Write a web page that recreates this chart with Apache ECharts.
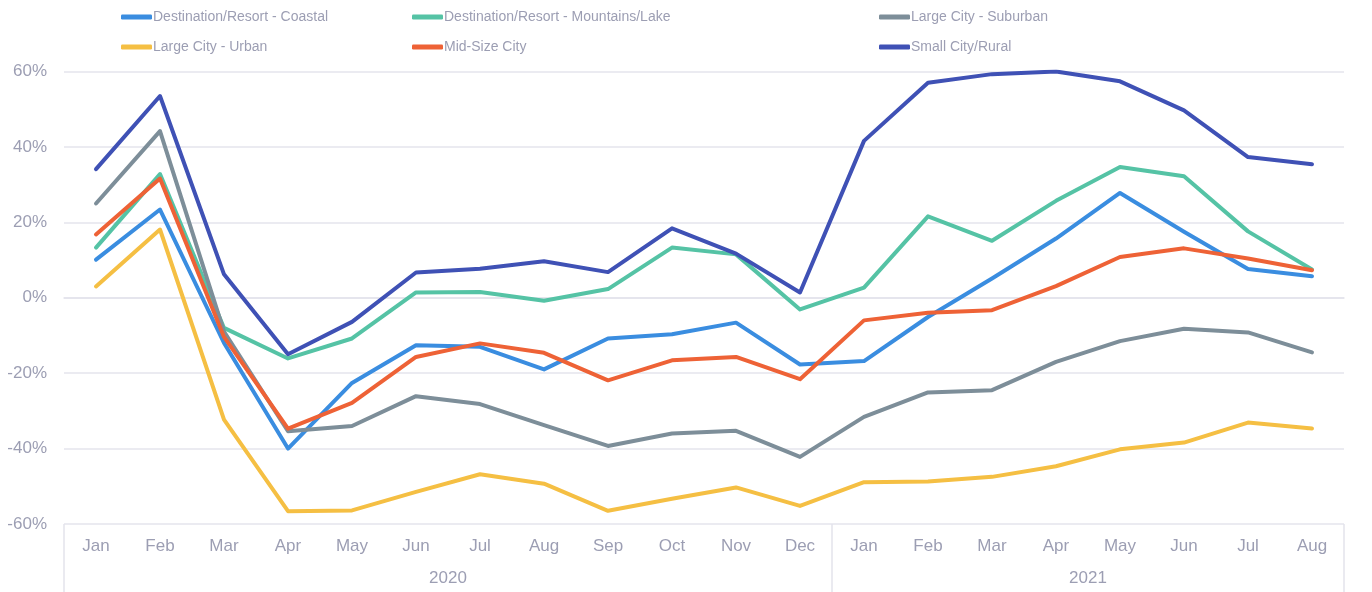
<!DOCTYPE html>
<html>
<head>
<meta charset="utf-8">
<script src="https://cdn.jsdelivr.net/npm/echarts@6/dist/echarts.min.js"></script>
<style>
html,body{margin:0;padding:0;background:#fff;}
#chart{width:1372px;height:592px;}
</style>
</head>
<body>
<div id="chart"></div>
<script>
const months = ['Jan','Feb','Mar','Apr','May','Jun','Jul','Aug','Sep','Oct','Nov','Dec','Jan','Feb','Mar','Apr','May','Jun','Jul','Aug'];
const years = ['2020','2021'];
const yearStarts = [0, 12, 20];
const yearCenters = [6, 16];

const seriesNames = ['Destination/Resort - Coastal','Destination/Resort - Mountains/Lake','Large City - Suburban','Large City - Urban','Mid-Size City','Small City/Rural'];

const coastal   = [10.1, 23.4, -12, -40.0, -22.6, -12.6, -13.0, -19.0, -10.8, -9.7, -6.6, -17.7, -16.8, -5.1, 5.1, 15.7, 27.8, 17.5, 7.6, 5.7];
const mountains = [13.3, 32.8, -8, -16.1, -10.8, 1.4, 1.5, -0.8, 2.3, 13.3, 11.5, -3.1, 2.7, 21.6, 15.1, 25.7, 34.7, 32.2, 17.6, 7.5];
const suburban  = [25.0, 44.2, -9, -35.4, -34.0, -26.1, -28.2, -33.8, -39.3, -36.0, -35.3, -42.2, -31.6, -25.1, -24.5, -17.0, -11.5, -8.2, -9.2, -14.5];
const urban     = [3.0, 18.1, -32.3, -56.6, -56.4, -51.5, -46.8, -49.3, -56.5, -53.3, -50.3, -55.2, -48.9, -48.7, -47.5, -44.7, -40.2, -38.4, -33.1, -34.7];
const midsize   = [16.8, 31.6, -10.4, -34.7, -27.9, -15.7, -12.1, -14.6, -21.9, -16.6, -15.7, -21.6, -6.0, -4.0, -3.3, 3.1, 10.8, 13.1, 10.4, 7.3];
const rural     = [34.1, 53.5, 6.2, -15.0, -6.4, 6.7, 7.7, 9.7, 6.8, 18.4, 11.7, 1.4, 41.6, 57.0, 59.3, 60.0, 57.4, 49.7, 37.3, 35.4];

const seriesData = [coastal, mountains, suburban, urban, midsize, rural];
const colors = ['#3a8de0', '#55c3a5', '#7d8e99', '#f5bf43', '#ee6236', '#3f51b5'];

const textColor = '#9c9eb3';
const gridColor = '#e4e4ec';
const legendFont = '"Liberation Sans", Arial, sans-serif';
const axisFont = '"Liberation Sans", Arial, sans-serif';

// legend layout: [left, top] per item
const legendPos = [[121, 8], [412, 8], [879, 8], [121, 38], [412, 38], [879, 38]];

const legends = seriesNames.map((name, k) => ({
  data: [name],
  left: legendPos[k][0],
  top: legendPos[k][1],
  orient: 'horizontal',
  icon: 'roundRect',
  itemWidth: 31,
  itemHeight: 5,
  padding: 0,
  textStyle: { color: textColor, fontSize: 14, fontFamily: legendFont, lineHeight: 18, padding: [0, 0, 0, -4] }
}));

const option = {
  animation: false,
  color: colors,
  legend: legends,
  grid: { left: 64, right: 28, top: 71.5, bottom: 68, containLabel: false },
  xAxis: [
    {
      type: 'category',
      data: months,
      boundaryGap: true,
      axisLine: { show: true, lineStyle: { color: gridColor, width: 1.5 } },
      axisTick: { show: false },
      axisLabel: { color: textColor, fontSize: 17, fontFamily: axisFont, margin: 14 }
    },
    {
      type: 'value',
      min: 0,
      max: 20,
      position: 'bottom',
      axisLine: { show: false },
      splitLine: { show: false },
      axisTick: { show: true, customValues: yearStarts, length: 68, lineStyle: { color: gridColor, width: 1.5 } },
      axisLabel: {
        show: true,
        customValues: yearCenters,
        color: textColor, fontSize: 17, fontFamily: axisFont, margin: 46,
        formatter: v => years[yearCenters.indexOf(v)] || ''
      }
    }
  ],
  yAxis: {
    type: 'value',
    min: -60,
    max: 60,
    interval: 20,
    axisLine: { show: false },
    axisTick: { show: false },
    splitLine: { lineStyle: { color: gridColor, width: 1.5 } },
    axisLabel: { color: textColor, fontSize: 17, fontFamily: axisFont, margin: 17, formatter: v => v + '%' }
  },
  series: seriesNames.map((name, i) => ({
    name: name,
    type: 'line',
    xAxisIndex: 0,
    data: seriesData[i],
    symbol: 'none',
    lineStyle: { width: 4, color: colors[i], cap: 'round', join: 'round' },
    itemStyle: { color: colors[i] }
  }))
};

const chart = echarts.init(document.getElementById('chart'), null, { renderer: 'canvas' });
chart.setOption(option);
</script>
</body>
</html>
